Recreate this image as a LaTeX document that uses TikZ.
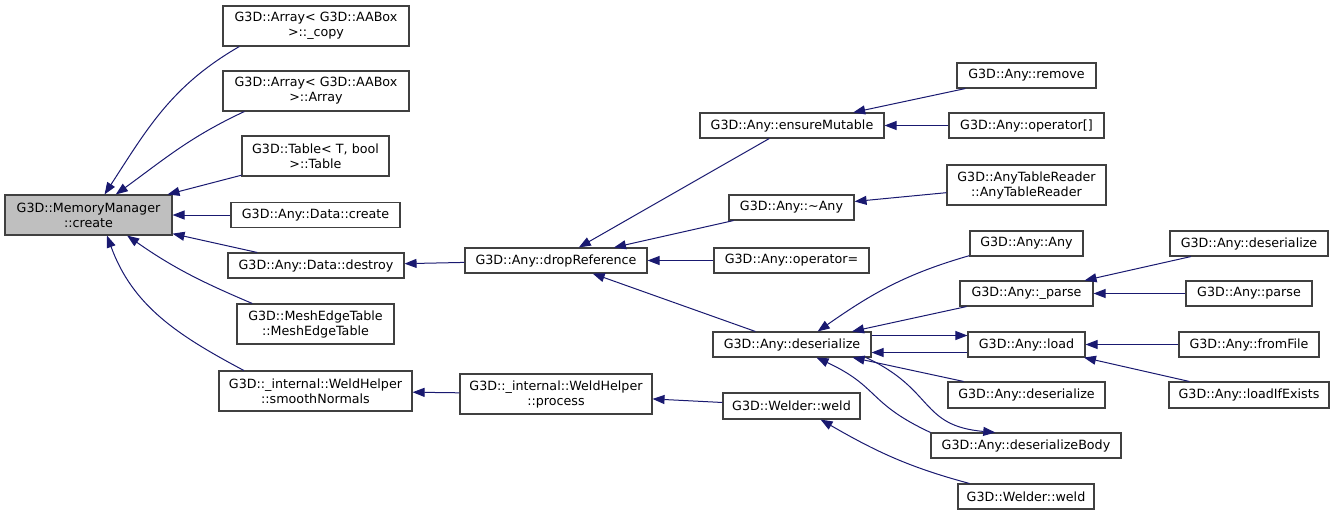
\documentclass[tikz,border=0pt]{standalone}
\usepackage{fontspec}
\setmainfont{DejaVu Sans}
\usetikzlibrary{arrows.meta}
\definecolor{navy}{HTML}{191970}
\definecolor{boxline}{HTML}{404040}
\definecolor{selfgray}{HTML}{BFBFBF}

\begin{document}
\begin{tikzpicture}[x=1pt, y=-1pt,
    fn/.style={draw=boxline, line width=1.1pt, fill=white, rectangle, inner sep=0pt, align=center,
      minimum height=25pt, font=\fontsize{12.7}{15}\selectfont},
    two/.style={minimum height=40pt},
    call/.style={draw=navy, line width=1pt, -{Triangle[length=12pt,width=9pt]}}]
    \useasboundingbox (0,0) rectangle (1335,515);

    \node [fn, two, fill=selfgray, minimum width=167pt] (mm) at (88.5,215) {G3D::MemoryManager\\::create};

    \node [fn, two, minimum width=186pt] (copy) at (316,26) {G3D::Array< G3D::AABox\\>::\_copy};
    \node [fn, two, minimum width=186pt] (array) at (316,91) {G3D::Array< G3D::AABox\\>::Array};
    \node [fn, two, minimum width=147pt] (table) at (315.5,156) {G3D::Table< T, bool\\>::Table};
    \node [fn, minimum width=169pt] (dcreate) at (315.5,215) {G3D::Any::Data::create};
    \node [fn, minimum width=176pt] (ddestroy) at (316,265.5) {G3D::Any::Data::destroy};
    \node [fn, two, minimum width=157pt] (mesh) at (315.5,324) {G3D::MeshEdgeTable\\::MeshEdgeTable};
    \node [fn, two, minimum width=193pt] (smooth) at (315.5,391) {G3D::\_internal::WeldHelper\\::smoothNormals};

    \node [fn, minimum width=182pt] (dropref) at (556,260.5) {G3D::Any::dropReference};
    \node [fn, two, minimum width=192pt] (process) at (556,394) {G3D::\_internal::WeldHelper\\::process};

    \node [fn, minimum width=184pt] (ensure) at (792,125.5) {G3D::Any::ensureMutable};
    \node [fn, minimum width=125pt] (dtor) at (791.5,207.5) {G3D::Any::\textasciitilde Any};
    \node [fn, minimum width=155pt] (opassign) at (791.5,260.5) {G3D::Any::operator=};
    \node [fn, minimum width=158pt] (deser) at (792,344.5) {G3D::Any::deserialize};
    \node [fn, minimum width=137pt, minimum height=26pt] (weld1) at (791.5,406) {G3D::Welder::weld};

    \node [fn, minimum width=139pt] (remove) at (1026.5,75.5) {G3D::Any::remove};
    \node [fn, minimum width=155pt] (opindex) at (1026.5,125.5) {G3D::Any::operator[]};
    \node [fn, two, minimum width=159pt] (reader) at (1026.5,185) {G3D::AnyTableReader\\::AnyTableReader};
    \node [fn, minimum width=113pt] (anyany) at (1026.5,243.5) {G3D::Any::Any};
    \node [fn, minimum width=133pt] (parseu) at (1026.5,293.5) {G3D::Any::\_parse};
    \node [fn, minimum width=117pt] (load) at (1026.5,344.5) {G3D::Any::load};
    \node [fn, minimum width=157pt, minimum height=26pt] (deser2) at (1026.5,395) {G3D::Any::deserialize};
    \node [fn, minimum width=190pt] (body) at (1026,445.5) {G3D::Any::deserializeBody};
    \node [fn, minimum width=136pt] (weld2) at (1026,496.5) {G3D::Welder::weld};

    \node [fn, minimum width=158pt] (deser3) at (1249,243.5) {G3D::Any::deserialize};
    \node [fn, minimum width=126pt] (parse) at (1249,293.5) {G3D::Any::parse};
    \node [fn, minimum width=140pt] (fromfile) at (1249,344.5) {G3D::Any::fromFile};
    \node [fn, minimum width=160pt, minimum height=26pt] (loadif) at (1249,395) {G3D::Any::loadIfExists};

    \draw[call] (copy.195) to[out=210, in=57] (mm.52);
    \draw[call] (array.196) to[out=205, in=36] (mm.37);
    \draw[call] (table) -- (mm);
    \draw[call] (dcreate) -- (mm);
    \draw[call] (ddestroy) -- (mm);
    \draw[call] (mesh.162) to[out=157, in=-35] (mm.-28);
    \draw[call] (smooth.164) to[out=152, in=-70] (mm.-48);

    \draw[call] (dropref) -- (ddestroy);
    \draw[call] (process) -- (smooth);

    \draw[call] (ensure) -- (dropref);
    \draw[call] (dtor) -- (dropref);
    \draw[call] (opassign) -- (dropref);
    \draw[call] (deser) -- (dropref);
    \draw[call] (weld1) -- (process);

    \draw[call] (remove) -- (ensure);
    \draw[call] (opindex) -- (ensure);
    \draw[call] (reader) -- (dtor);
    \draw[call] (anyany.192) to[out=196, in=35] (deser.27);
    \draw[call] (parseu) -- (deser);
    \draw[call] ([yshift=9pt]deser.east) -- ([yshift=9pt]load.west);
    \draw[call] ([yshift=-8pt]load.west) -- ([yshift=-8pt]deser.east);
    \draw[call] (deser2) -- (deser);
    \draw[call] (body.north west) to[out=155, in=-25, looseness=1.3] (deser.-28);
    \draw[call] (deser.-10) to[out=-25, in=175, looseness=1.3] (body.157);
    \draw[call] (weld2.167) to[out=165, in=-30] (weld1.-25);

    \draw[call] (deser3) -- (parseu);
    \draw[call] (parse) -- (parseu);
    \draw[call] (fromfile) -- (load);
    \draw[call] (loadif) -- (load);
\end{tikzpicture}
\end{document}
